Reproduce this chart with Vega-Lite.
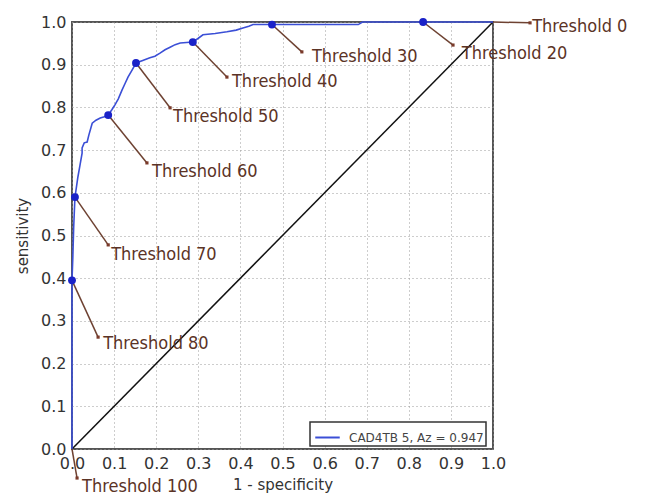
{
  "$schema": "https://vega.github.io/schema/vega-lite/v6.json",
  "width": 421,
  "height": 427,
  "autosize": "none",
  "padding": {"left": 72, "top": 22, "right": 152, "bottom": 48},
  "background": "white",
  "config": {
    "view": {"stroke": "#555555", "strokeWidth": 2},
    "axis": {
      "labelFont": "DejaVu Sans",
      "labelFontSize": 16,
      "labelColor": "#333333",
      "titleFont": "DejaVu Sans",
      "titleFontSize": 15,
      "titleFontWeight": "normal",
      "titleColor": "#333333",
      "domain": false,
      "ticks": false,
      "labelPadding": 6,
      "labelFlush": false,
      "labelOverlap": false,
      "grid": true,
      "gridColor": "#9a9a9a",
      "gridDash": [1, 3],
      "gridWidth": 1
    }
  },
  "datasets": {
    "curve": [
      {"i": 0, "fpr": 0, "tpr": 0},
      {"i": 1, "fpr": 0, "tpr": 0.395},
      {"i": 2, "fpr": 0.002, "tpr": 0.45},
      {"i": 3, "fpr": 0.004, "tpr": 0.52},
      {"i": 4, "fpr": 0.007, "tpr": 0.59},
      {"i": 5, "fpr": 0.01, "tpr": 0.61},
      {"i": 6, "fpr": 0.014, "tpr": 0.637},
      {"i": 7, "fpr": 0.019, "tpr": 0.665},
      {"i": 8, "fpr": 0.024, "tpr": 0.693},
      {"i": 9, "fpr": 0.024, "tpr": 0.705},
      {"i": 10, "fpr": 0.029, "tpr": 0.717},
      {"i": 11, "fpr": 0.036, "tpr": 0.719},
      {"i": 12, "fpr": 0.04, "tpr": 0.735},
      {"i": 13, "fpr": 0.048, "tpr": 0.763},
      {"i": 14, "fpr": 0.057, "tpr": 0.77},
      {"i": 15, "fpr": 0.067, "tpr": 0.775},
      {"i": 16, "fpr": 0.077, "tpr": 0.778},
      {"i": 17, "fpr": 0.086, "tpr": 0.782},
      {"i": 18, "fpr": 0.095, "tpr": 0.795},
      {"i": 19, "fpr": 0.102, "tpr": 0.806},
      {"i": 20, "fpr": 0.11, "tpr": 0.82},
      {"i": 21, "fpr": 0.119, "tpr": 0.841},
      {"i": 22, "fpr": 0.126, "tpr": 0.856},
      {"i": 23, "fpr": 0.133, "tpr": 0.871},
      {"i": 24, "fpr": 0.143, "tpr": 0.888},
      {"i": 25, "fpr": 0.152, "tpr": 0.904},
      {"i": 26, "fpr": 0.168, "tpr": 0.91},
      {"i": 27, "fpr": 0.185, "tpr": 0.916},
      {"i": 28, "fpr": 0.197, "tpr": 0.92},
      {"i": 29, "fpr": 0.209, "tpr": 0.927},
      {"i": 30, "fpr": 0.221, "tpr": 0.935},
      {"i": 31, "fpr": 0.233, "tpr": 0.941},
      {"i": 32, "fpr": 0.245, "tpr": 0.947},
      {"i": 33, "fpr": 0.257, "tpr": 0.951},
      {"i": 34, "fpr": 0.287, "tpr": 0.953},
      {"i": 35, "fpr": 0.3, "tpr": 0.962},
      {"i": 36, "fpr": 0.311, "tpr": 0.97},
      {"i": 37, "fpr": 0.34, "tpr": 0.973},
      {"i": 38, "fpr": 0.368, "tpr": 0.977},
      {"i": 39, "fpr": 0.39, "tpr": 0.981},
      {"i": 40, "fpr": 0.406, "tpr": 0.986},
      {"i": 41, "fpr": 0.42, "tpr": 0.99},
      {"i": 42, "fpr": 0.43, "tpr": 0.994},
      {"i": 43, "fpr": 0.68, "tpr": 0.994},
      {"i": 44, "fpr": 0.69, "tpr": 1.0},
      {"i": 45, "fpr": 1.0, "tpr": 1.0}
    ],
    "thresholds": [
      {"label": "Threshold 0", "fpr": 1.0, "tpr": 1.0, "dot": false, "ax": 1.088, "ay": 0.998, "tx": 1.093, "ty": 0.988},
      {"label": "Threshold 20", "fpr": 0.834, "tpr": 1.0, "dot": true, "ax": 0.905, "ay": 0.946, "tx": 0.926, "ty": 0.925},
      {"label": "Threshold 30", "fpr": 0.475, "tpr": 0.994, "dot": true, "ax": 0.546, "ay": 0.93, "tx": 0.57, "ty": 0.918},
      {"label": "Threshold 40", "fpr": 0.287, "tpr": 0.953, "dot": true, "ax": 0.368, "ay": 0.871, "tx": 0.38, "ty": 0.859},
      {"label": "Threshold 50", "fpr": 0.152, "tpr": 0.904, "dot": true, "ax": 0.233, "ay": 0.799, "tx": 0.24, "ty": 0.778},
      {"label": "Threshold 60", "fpr": 0.086, "tpr": 0.782, "dot": true, "ax": 0.178, "ay": 0.67, "tx": 0.19, "ty": 0.649},
      {"label": "Threshold 70", "fpr": 0.007, "tpr": 0.59, "dot": true, "ax": 0.086, "ay": 0.478, "tx": 0.093, "ty": 0.454},
      {"label": "Threshold 80", "fpr": 0.0, "tpr": 0.395, "dot": true, "ax": 0.062, "ay": 0.262, "tx": 0.074, "ty": 0.246},
      {"label": "Threshold 100", "fpr": 0.0, "tpr": 0.0, "dot": false, "ax": 0.012, "ay": -0.068, "tx": 0.024, "ty": -0.089}
    ],
    "diag": [
      {"fpr": 0, "tpr": 0},
      {"fpr": 1, "tpr": 1}
    ]
  },
  "layer": [
    {
      "data": {"name": "diag"},
      "mark": {"type": "line", "color": "#111111", "strokeWidth": 1.5},
      "encoding": {
        "x": {"field": "fpr", "type": "quantitative", "scale": {"domain": [0, 1], "nice": false}, "axis": {"title": "1 - specificity", "values": [0, 0.1, 0.2, 0.3, 0.4, 0.5, 0.6, 0.7, 0.8, 0.9, 1.0], "format": ".1f", "titlePadding": 6}},
        "y": {"field": "tpr", "type": "quantitative", "scale": {"domain": [0, 1], "nice": false}, "axis": {"title": "sensitivity", "values": [0, 0.1, 0.2, 0.3, 0.4, 0.5, 0.6, 0.7, 0.8, 0.9, 1.0], "format": ".1f", "titlePadding": 10}}
      }
    },
    {
      "data": {"name": "curve"},
      "transform": [{"calculate": "'CAD4TB 5, Az = 0.947'", "as": "series"}],
      "mark": {"type": "line", "strokeWidth": 1.6},
      "encoding": {
        "x": {"field": "fpr", "type": "quantitative"},
        "y": {"field": "tpr", "type": "quantitative"},
        "order": {"field": "i", "type": "quantitative"},
        "color": {
          "field": "series", "type": "nominal",
          "scale": {"range": ["#3b4fd6"]},
          "legend": {
            "title": null,
            "orient": "none",
            "legendX": 238,
            "legendY": 400,
            "strokeColor": "#333333",
            "fillColor": "white",
            "padding": 2,
            "cornerRadius": 0,
            "symbolType": "stroke",
            "symbolStrokeWidth": 2,
            "symbolSize": 600,
            "symbolOffset": 2,
            "labelOffset": 8,
            "labelFont": "DejaVu Sans",
            "labelFontSize": 12,
            "labelColor": "#444444",
            "labelLimit": 300,
            "encode": {"legend": {"update": {"strokeWidth": {"value": 1.5}}}}
          }
        }
      }
    },
    {
      "data": {"name": "thresholds"},
      "mark": {"type": "rule", "color": "#6e4232", "strokeWidth": 1.5},
      "encoding": {
        "x": {"field": "fpr", "type": "quantitative"},
        "y": {"field": "tpr", "type": "quantitative"},
        "x2": {"field": "ax"},
        "y2": {"field": "ay"}
      }
    },
    {
      "data": {"name": "thresholds"},
      "mark": {"type": "point", "shape": "square", "filled": true, "size": 10, "color": "#7a3a2a", "opacity": 1},
      "encoding": {
        "x": {"field": "ax", "type": "quantitative"},
        "y": {"field": "ay", "type": "quantitative"}
      }
    },
    {
      "data": {"name": "thresholds"},
      "transform": [{"filter": "datum.dot"}],
      "mark": {"type": "circle", "size": 62, "color": "#1a22c8", "opacity": 1},
      "encoding": {
        "x": {"field": "fpr", "type": "quantitative"},
        "y": {"field": "tpr", "type": "quantitative"}
      }
    },
    {
      "data": {"name": "thresholds"},
      "mark": {"type": "text", "align": "left", "baseline": "middle", "font": "DejaVu Sans Condensed", "fontSize": 18, "color": "#5b3326"},
      "encoding": {
        "x": {"field": "tx", "type": "quantitative"},
        "y": {"field": "ty", "type": "quantitative"},
        "text": {"field": "label"}
      }
    }
  ]
}
